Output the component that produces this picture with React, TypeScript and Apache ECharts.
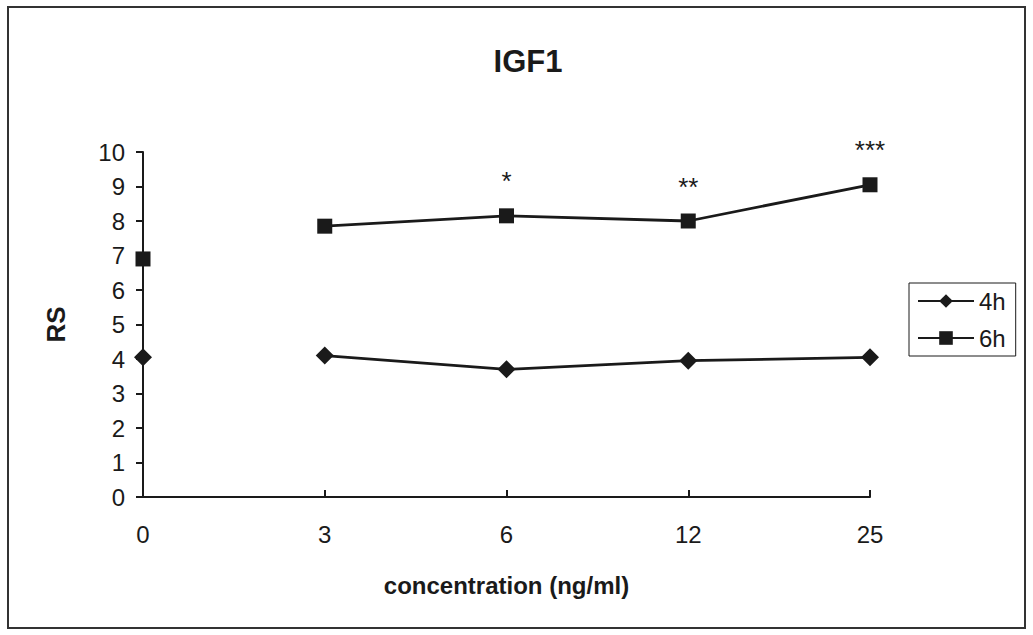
import React, { useEffect, useRef } from "react";
import * as echarts from "echarts";

const categories = ["0", "3", "6", "12", "25"];
const yTicks = [0, 10, 1];
const h4Values = [4.05, 4.1, 3.7, 3.95, 4.05];
const h6Values = [6.9, 7.85, 8.15, 8.0, 9.05];
const significance = ["", "", "*", "**", "***"];
const seriesNames = ["4h", "6h"];

const FONT = "'Liberation Sans', Arial, sans-serif";
const INK = "#1a1a1a";

export default function App() {
  const ref = useRef<HTMLDivElement>(null);
  useEffect(() => {
    document.body.style.margin = "0";
    const chart = echarts.init(ref.current!, null, { renderer: "svg" });
    const rest = (arr: number[]) => arr.map((v, i) => (i === 0 ? null : v));
    const first = (arr: number[]) => arr.map((v, i) => (i === 0 ? v : null));
    const common = {
      type: "line",
      lineStyle: { color: INK, width: 2.8 },
      itemStyle: { color: INK },
      connectNulls: false,
    };
    chart.setOption({
      animation: false,
      backgroundColor: "#fff",
      textStyle: { fontFamily: FONT },
      title: {
        text: "IGF1",
        left: 523,
        top: 41,
        textAlign: "center",
        textStyle: { fontSize: 31, fontWeight: "bold", color: INK, fontFamily: FONT },
      },
      grid: { left: 143, right: 163, top: 152, bottom: 138 },
      legend: {
        orient: "vertical",
        left: 909,
        top: 283,
        data: seriesNames,
        itemWidth: 56,
        itemHeight: 17,
        itemGap: 13,
        padding: [6, 10, 6, 8],
        borderColor: INK,
        borderWidth: 1,
        borderRadius: 0,
        textStyle: { fontSize: 24, color: INK, fontFamily: FONT },
      },
      xAxis: {
        type: "category",
        data: categories,
        boundaryGap: false,
        name: "concentration (ng/ml)",
        nameLocation: "middle",
        nameGap: 76,
        nameTextStyle: { fontSize: 24, fontWeight: "bold", color: INK, fontFamily: FONT },
        axisLine: { lineStyle: { color: INK, width: 2 } },
        axisTick: { inside: true, length: 7, alignWithLabel: true, lineStyle: { color: INK, width: 2 } },
        axisLabel: { margin: 25, fontSize: 24, color: INK, fontFamily: FONT },
        splitLine: { show: false },
      },
      yAxis: {
        type: "value",
        min: yTicks[0],
        max: yTicks[1],
        interval: yTicks[2],
        name: "RS",
        nameLocation: "middle",
        nameGap: 74,
        nameTextStyle: { fontSize: 26, fontWeight: "bold", color: INK, fontFamily: FONT },
        axisLine: { show: true, lineStyle: { color: INK, width: 2 } },
        axisTick: { show: true, length: 7, lineStyle: { color: INK, width: 2 } },
        axisLabel: { margin: 18, fontSize: 24, color: INK, fontFamily: FONT },
        splitLine: { show: false },
      },
      series: [
        { ...common, name: seriesNames[0], symbol: "diamond", symbolSize: 18, data: rest(h4Values) },
        { ...common, name: seriesNames[0], symbol: "diamond", symbolSize: 18, data: first(h4Values) },
        {
          ...common,
          name: seriesNames[1],
          symbol: "rect",
          symbolSize: 15,
          data: rest(h6Values),
          label: {
            show: true,
            position: "top",
            distance: 14,
            fontSize: 26,
            color: INK,
            fontFamily: FONT,
            formatter: (p: any) => significance[p.dataIndex] || "",
          },
        },
        { ...common, name: seriesNames[1], symbol: "rect", symbolSize: 15, data: first(h6Values) },
      ],
      graphic: [
        {
          type: "rect",
          shape: { x: 8, y: 7, width: 1017, height: 621 },
          style: { fill: "none", stroke: "#333", lineWidth: 2 },
          silent: true,
        },
      ],
    });
    return () => chart.dispose();
  }, []);
  return <div ref={ref} style={{ width: 1033, height: 635 }} />;
}
